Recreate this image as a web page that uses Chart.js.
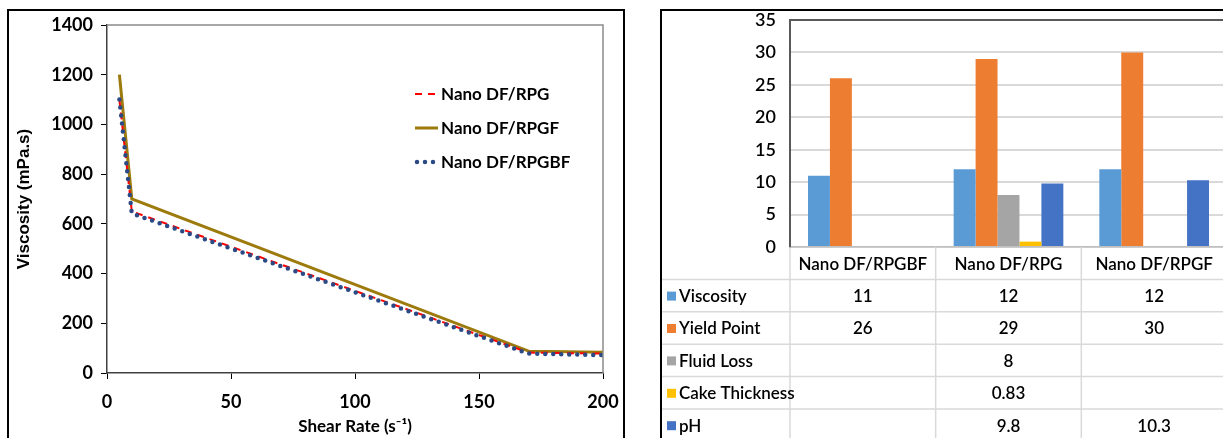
<!DOCTYPE html>
<html>
<head>
<meta charset="utf-8">
<script src="https://cdnjs.cloudflare.com/ajax/libs/Chart.js/4.4.1/chart.umd.js"></script>
<style>
  html, body { margin: 0; padding: 0; background: #fff; overflow: hidden; width: 1223px; height: 438px; }
  .panel { position: absolute; border: 2px solid #000; background: #fff; }
  #leftPanel { left: 7px; top: 9px; width: 614px; height: 440px; }
  #rightPanel { left: 660px; top: 9px; width: 580px; height: 440px; border-right: none; }
  canvas { display: block; }
</style>
</head>
<body>
<div class="panel" id="leftPanel"><canvas id="viscChart" width="614" height="427"></canvas></div>
<div class="panel" id="rightPanel"><canvas id="propChart" width="575" height="430"></canvas></div>
<script>
// ---- left chart: viscosity vs shear rate
const shearRate = [5, 10, 170, 200];
const viscRPG = [1100, 650, 82, 78];
const viscRPGF = [1200, 700, 88, 83];
const viscRPGBF = [1100, 642, 78, 72];
const lineSeriesNames = ['Nano DF/RPG', 'Nano DF/RPGF', 'Nano DF/RPGBF'];
const xTicks = [0, 50, 100, 150, 200];
const yTicks = [0, 200, 400, 600, 800, 1000, 1200, 1400];

// ---- right chart: fluid properties
const fluids = ['Nano DF/RPGBF', 'Nano DF/RPG', 'Nano DF/RPGF'];
const propNames = ['Viscosity', 'Yield Point', 'Fluid Loss', 'Cake Thickness', 'pH'];
const viscosity = [11, 12, 12];
const yieldPoint = [26, 29, 30];
const fluidLoss = [null, 8, null];
const cakeThickness = [null, 0.83, null];
const pH = [null, 9.8, 10.3];
const propTicks = [0, 5, 10, 15, 20, 25, 30, 35];

const FONT = 'Lato, "DejaVu Sans Condensed", sans-serif';
const WIDE = '"Liberation Sans", Arial, sans-serif';

Chart.defaults.animation = false;
Chart.defaults.color = '#000';

function pts(xs, ys) {
  return xs.map((x, i) => ({ x, y: ys[i] }));
}

// keep chart area where layout padding puts it
function noPadX(s) { s.paddingLeft = 0; s.paddingRight = 0; }
function noPadY(s) { s.paddingTop = 0; s.paddingBottom = 0; }

const frame = {
  id: 'frame',
  afterDatasetsDraw(chart) {
    const { ctx, chartArea: a } = chart;
    ctx.save();
    ctx.strokeStyle = '#8c8c8c';
    ctx.lineWidth = 1.5;
    ctx.beginPath();
    ctx.moveTo(a.left, a.top);
    ctx.lineTo(a.right, a.top);
    ctx.lineTo(a.right, a.bottom);
    ctx.stroke();
    ctx.restore();
  },
};

const lineLegend = {
  id: 'lineLegend',
  afterDraw(chart) {
    const { ctx } = chart;
    const x0 = 406, x1 = 429, rows = [83, 117, 151];
    ctx.save();
    ctx.font = 'bold 17px ' + FONT;
    ctx.textBaseline = 'middle';
    chart.data.datasets.forEach((ds, i) => {
      ctx.strokeStyle = ds.borderColor;
      ctx.lineWidth = ds.borderWidth;
      ctx.lineCap = ds.borderCapStyle || 'butt';
      ctx.setLineDash(ds.borderDash || []);
      ctx.beginPath();
      ctx.moveTo(x0 + (ds.borderCapStyle === 'round' ? 2 : 0), rows[i]);
      ctx.lineTo(x1, rows[i]);
      ctx.stroke();
      ctx.setLineDash([]);
      ctx.fillStyle = '#000';
      ctx.fillText(ds.label, x1 + 3, rows[i] + 1);
    });
    ctx.restore();
  },
};

new Chart(document.getElementById('viscChart'), {
  type: 'line',
  data: {
    datasets: [
      {
        label: lineSeriesNames[0],
        data: pts(shearRate, viscRPG),
        borderColor: '#ff0000',
        borderWidth: 2,
        borderDash: [7, 6],
        pointRadius: 0,
        order: 2,
      },
      {
        label: lineSeriesNames[1],
        data: pts(shearRate, viscRPGF),
        borderColor: '#9c7a0c',
        borderWidth: 3,
        pointRadius: 0,
        order: 3,
      },
      {
        label: lineSeriesNames[2],
        data: pts(shearRate, viscRPGBF),
        borderColor: '#2b4a85',
        borderWidth: 4.5,
        borderDash: [0, 8],
        borderCapStyle: 'round',
        pointRadius: 0,
        order: 1,
      },
    ],
  },
  options: {
    responsive: false,
    layout: { padding: { left: 0, top: 14, right: 20, bottom: 0 } },
    plugins: { legend: { display: false }, tooltip: { enabled: false } },
    scales: {
      x: {
        type: 'linear',
        min: 0,
        max: 200,
        afterBuildTicks(s) { s.ticks = xTicks.map(v => ({ value: v })); },
        afterFit(s) { s.height = 65; noPadX(s); },
        grid: { drawOnChartArea: false, drawTicks: true, tickLength: 6, tickColor: '#000', lineWidth: 1 },
        border: { color: '#404040', width: 1.5 },
        ticks: {
          padding: 12,
          font: { family: FONT, size: 18, weight: 'bold' },
          maxRotation: 0,
          callback: v => String(v),
        },
        title: {
          display: true,
          text: 'Shear Rate (s\u207B\u00B9)',
          font: { family: FONT, size: 17, weight: 'bold' },
          padding: { top: 0, bottom: 1 },
        },
      },
      y: {
        min: 0,
        max: 1400,
        afterBuildTicks(s) { s.ticks = yTicks.map(v => ({ value: v })); },
        afterFit(s) { s.width = 98; noPadY(s); },
        grid: { drawOnChartArea: false, drawTicks: true, tickLength: 6, tickColor: '#000', lineWidth: 1 },
        border: { color: '#404040', width: 1.5 },
        ticks: {
          padding: 8,
          font: { family: FONT, size: 18, weight: 'bold' },
          callback: v => String(v),
        },
        title: {
          display: true,
          text: 'Viscosity (mPa.s)',
          font: { family: WIDE, size: 17, weight: 'bold' },
          padding: { top: 5, bottom: 0 },
        },
      },
    },
  },
  plugins: [frame, lineLegend],
});

// ---- right chart with data table
const propColors = ['#5b9bd5', '#ed7d31', '#a5a5a5', '#ffc000', '#4472c4'];
const propValues = [viscosity, yieldPoint, fluidLoss, cakeThickness, pH];

const dataTable = {
  id: 'dataTable',
  afterDraw(chart) {
    const { ctx, chartArea: a, scales: { x } } = chart;
    const rowH = 32.4;
    const top = a.bottom;
    const nRows = chart.data.datasets.length + 1;
    const bottom = top + nRows * rowH;
    const half = (x.getPixelForValue(1) - x.getPixelForValue(0)) / 2;
    ctx.save();
    ctx.strokeStyle = '#d9d9d9';
    ctx.lineWidth = 1.5;
    ctx.beginPath();
    for (let r = 1; r <= nRows; r++) {
      const y = top + r * rowH;
      ctx.moveTo(0, y);
      ctx.lineTo(chart.width, y);
    }
    ctx.moveTo(a.left, top);
    ctx.lineTo(a.left, bottom);
    chart.data.labels.forEach((_, i) => {
      const bx = x.getPixelForValue(i) + half;
      ctx.moveTo(bx, top);
      ctx.lineTo(bx, bottom);
    });
    ctx.stroke();

    ctx.font = '600 17px ' + FONT;
    ctx.fillStyle = '#000';
    ctx.textBaseline = 'middle';
    ctx.textAlign = 'center';
    chart.data.labels.forEach((lab, i) => {
      ctx.fillText(lab, x.getPixelForValue(i), top + rowH / 2 + 1);
    });
    chart.data.datasets.forEach((ds, r) => {
      const cy = top + (r + 1.5) * rowH + 1;
      ctx.textAlign = 'left';
      ctx.fillStyle = ds.backgroundColor;
      ctx.fillRect(5, cy - 5, 9, 9);
      ctx.fillStyle = '#000';
      ctx.fillText(ds.label, 17, cy);
      ctx.textAlign = 'center';
      ds.data.forEach((v, i) => {
        if (v !== null) ctx.fillText(String(v), x.getPixelForValue(i), cy);
      });
    });
    ctx.restore();
  },
};

new Chart(document.getElementById('propChart'), {
  type: 'bar',
  data: {
    labels: fluids,
    datasets: propNames.map((name, i) => ({
      label: name,
      data: propValues[i],
      backgroundColor: propColors[i],
      borderWidth: 0,
      categoryPercentage: 0.753,
      barPercentage: 1,
    })),
  },
  options: {
    responsive: false,
    layout: { padding: { left: 0, top: 9, right: 10, bottom: 0 } },
    plugins: { legend: { display: false }, tooltip: { enabled: false } },
    scales: {
      x: {
        afterFit(s) { s.height = 194; noPadX(s); },
        grid: { display: false },
        border: { color: '#bfbfbf', width: 1.5 },
        ticks: { display: false },
      },
      y: {
        min: 0,
        max: 35,
        afterBuildTicks(s) { s.ticks = propTicks.map(v => ({ value: v })); },
        afterFit(s) { s.width = 128; noPadY(s); },
        grid: {
          drawTicks: false,
          lineWidth: 2,
          color: c => (c.tick && c.tick.value === 35 ? '#595959' : '#d9d9d9'),
        },
        border: { color: '#595959', width: 2 },
        ticks: { padding: 14, font: { family: FONT, size: 18, weight: '600' } },
      },
    },
  },
  plugins: [dataTable],
});
</script>
</body>
</html>
